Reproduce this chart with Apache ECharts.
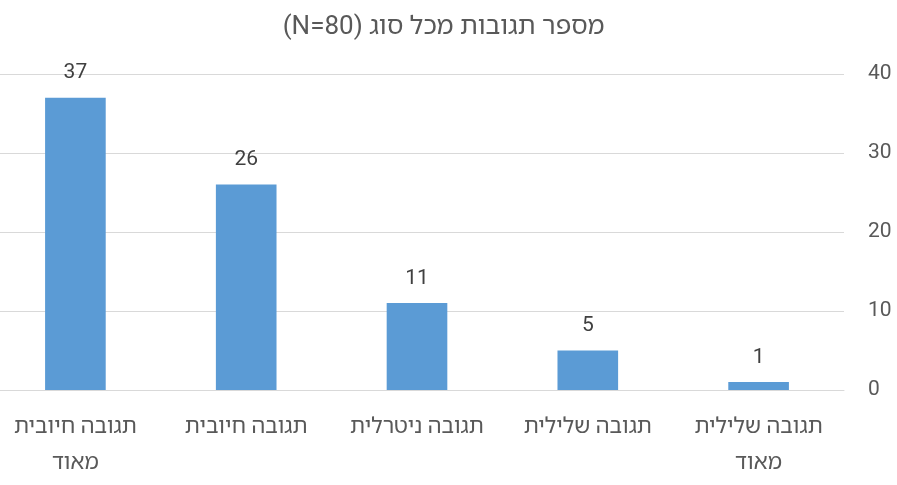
<!DOCTYPE html>
<html>
<head>
<meta charset="utf-8">
<script src="https://cdn.jsdelivr.net/npm/echarts@6/dist/echarts.min.js"></script>
<style>html,body{margin:0;padding:0;background:#fff;overflow:hidden;width:897px;height:485px;position:relative;} #c{position:absolute;left:-10px;top:0;width:907px;height:485px;}</style>
</head>
<body>
<div id="c" dir="rtl"></div>
<script>
const titleText = 'מספר תגובות מכל סוג (N=80)';
const categories = ['תגובה חיובית\nמאוד', 'תגובה חיובית', 'תגובה ניטרלית', 'תגובה שלילית', 'תגובה שלילית\nמאוד'];
const counts = [37, 26, 11, 5, 1];
const yTicks = { min: 0, max: 40, interval: 10 };

const FONT = 'Roboto, "Noto Sans Hebrew", sans-serif';
const chart = echarts.init(document.getElementById('c'));
chart.setOption({
  animation: false,
  title: {
    text: titleText, left: 'center', top: 9,
    textStyle: { fontFamily: FONT, fontSize: 26, fontWeight: 'normal', color: '#595959' }
  },
  grid: { left: 0, right: 53, top: 74, bottom: 95, containLabel: false },
  xAxis: {
    type: 'category', data: categories,
    axisLine: { show: true, lineStyle: { color: '#D9D9D9' } },
    axisTick: { show: false },
    axisLabel: { fontFamily: FONT, fontSize: 22, color: '#595959', margin: 19, lineHeight: 36, interval: 0 }
  },
  yAxis: {
    type: 'value', position: 'right', min: yTicks.min, max: yTicks.max, interval: yTicks.interval,
    axisLine: { show: false }, axisTick: { show: false },
    splitLine: { lineStyle: { color: '#D9D9D9' } },
    axisLabel: { fontFamily: FONT, fontSize: 21, color: '#595959', margin: 24 }
  },
  series: [{
    type: 'bar', data: counts, barWidth: '35.5%',
    itemStyle: { color: '#5B9BD5' },
    label: { show: true, position: 'top', distance: 14, fontFamily: FONT, fontSize: 21, color: '#404040' }
  }]
});
</script>
</body>
</html>
